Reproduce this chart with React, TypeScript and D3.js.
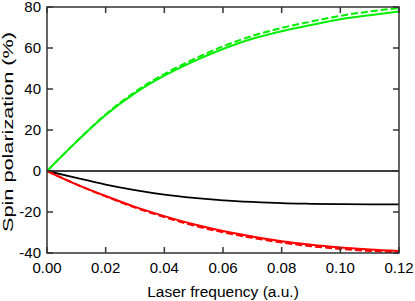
import React from "react";
import * as d3 from "d3";

const freq = [0, 0.01, 0.02, 0.03, 0.04, 0.05, 0.06, 0.07, 0.08, 0.09, 0.1, 0.11, 0.12];
const greenSolid = [0, 14.2, 27.3, 38, 46.5, 53.5, 59.5, 64.5, 68.2, 71.2, 74, 76, 77.8];
const greenDashed = [0, 14.3, 27.6, 38.6, 47.3, 54.5, 60.8, 65.9, 69.8, 72.9, 75.7, 77.8, 79.5];
const redSolid = [0, -6.5, -12.2, -17.5, -22, -26, -29.3, -32, -34.3, -36, -37.3, -38.3, -39];
const redDashed = [0, -6.5, -12.4, -17.8, -22.5, -26.6, -29.9, -32.6, -34.9, -36.7, -38, -39, -39.6];
const blackSolid = [0, -3.4, -6.6, -9.3, -11.5, -13.1, -14.3, -15.1, -15.7, -16.0, -16.2, -16.3, -16.3];
const zeroLine = [0, 0];
const zeroX = [0, 0.12];

const xTicks = [0, 0.02, 0.04, 0.06, 0.08, 0.1, 0.12];
const yTicks = [-40, -20, 0, 20, 40, 60, 80];

export default function App() {
  const W = 415, H = 301;
  const L = 47, R = 399, T = 7, B = 253;
  const x = d3.scaleLinear().domain([0, 0.12]).range([L, R]);
  const y = d3.scaleLinear().domain([-40, 80]).range([B, T]);
  const line = (xs: number[], ys: number[]) =>
    d3.line<number>().x((_, i) => x(xs[i])).y((v) => y(v)).curve(d3.curveMonotoneX)(ys) || "";
  const font = "'Liberation Sans', Arial, Helvetica, sans-serif";
  const axisColor = "#333";
  const tl = 6;
  return (
    <svg width={W} height={H} style={{ position: "absolute", left: 0, top: 0 }} fontFamily={font}>
      <rect x={0} y={0} width={W} height={H} fill="#fff" />
      <path d={line(zeroX, zeroLine)} fill="none" stroke="#000" strokeWidth={1.5} />
      <path d={line(freq, blackSolid)} fill="none" stroke="#000" strokeWidth={1.8} />
      <path d={line(freq, greenDashed)} fill="none" stroke="#00ee00" strokeWidth={2} strokeDasharray="7,3" />
      <path d={line(freq, greenSolid)} fill="none" stroke="#00ee00" strokeWidth={2} />
      <path d={line(freq, redDashed)} fill="none" stroke="#ff0000" strokeWidth={2} strokeDasharray="7,3" />
      <path d={line(freq, redSolid)} fill="none" stroke="#ff0000" strokeWidth={2} />
      <rect x={L} y={T} width={R - L} height={B - T} fill="none" stroke={axisColor} strokeWidth={1.5} />
      {xTicks.map((t) => (
        <g key={"x" + t}>
          <line x1={x(t)} x2={x(t)} y1={B} y2={B - tl} stroke={axisColor} strokeWidth={1.5} />
          <line x1={x(t)} x2={x(t)} y1={T} y2={T + tl} stroke={axisColor} strokeWidth={1.5} />
          <text x={x(t)} y={273} fontSize={15} textAnchor="middle" fill="#000">{t.toFixed(2)}</text>
        </g>
      ))}
      {yTicks.map((t) => (
        <g key={"y" + t}>
          <line x1={L} x2={L + tl} y1={y(t)} y2={y(t)} stroke={axisColor} strokeWidth={1.5} />
          <line x1={R} x2={R - tl} y1={y(t)} y2={y(t)} stroke={axisColor} strokeWidth={1.5} />
          <text x={41} y={y(t)} dy="0.36em" fontSize={15} textAnchor="end" fill="#000">{t}</text>
        </g>
      ))}
      <text x={(L + R) / 2} y={297} fontSize={15.5} textAnchor="middle" fill="#000">Laser frequency (a.u.)</text>
      <text transform={`translate(13,132) rotate(-90)`} fontSize={15.5} textAnchor="middle" fill="#000"
        textLength={200} lengthAdjust="spacingAndGlyphs">Spin polarization (%)</text>
    </svg>
  );
}
